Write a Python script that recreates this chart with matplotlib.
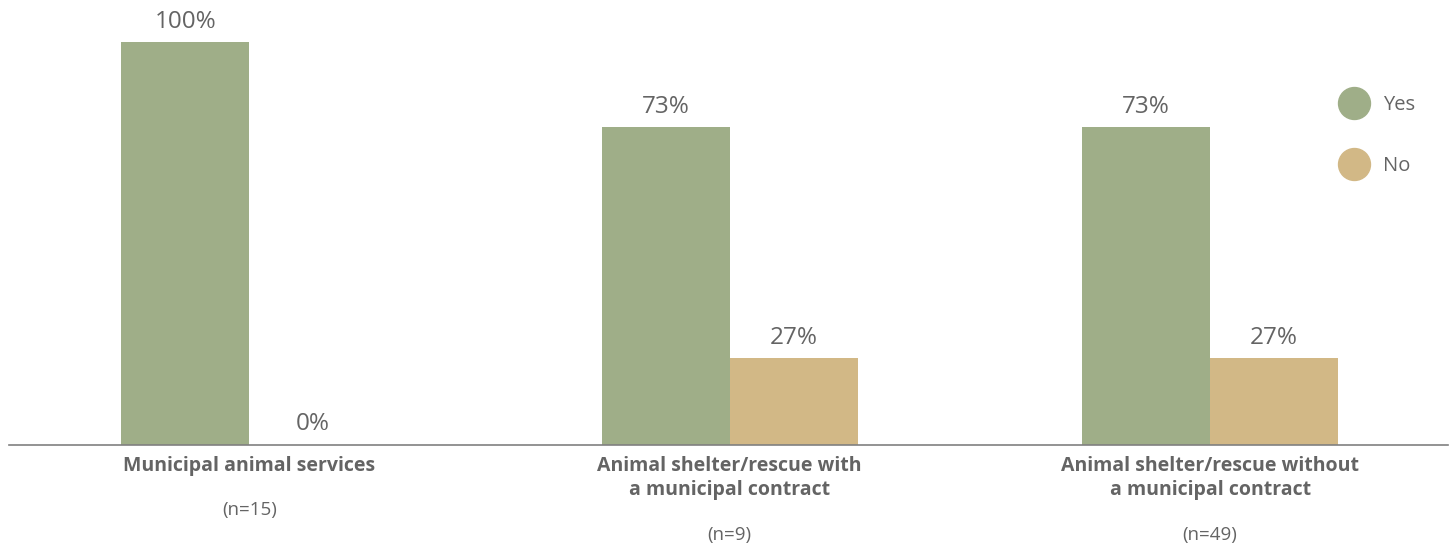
import matplotlib.pyplot as plt
from matplotlib.lines import Line2D
import numpy as np

# data
categories = ['Municipal animal services',
              'Animal shelter/rescue with\na municipal contract',
              'Animal shelter/rescue without\na municipal contract']
sample_sizes = ['(n=15)', '(n=9)', '(n=49)']
yes_heights = [100, 78.9, 78.9]
no_heights = [0, 21.5, 21.5]
yes_labels = ['100%', '73%', '73%']
no_labels = ['0%', '27%', '27%']

green = '#9fae88'
tan = '#d2b886'
grey = '#646464'

plt.rcParams['font.family'] = ['Open Sans', 'DejaVu Sans']

fig = plt.figure(figsize=(14.54, 5.45), dpi=100)
ax = fig.add_axes([9 / 1454, 100.5 / 545, 1439 / 1454, 444.5 / 545])

x = np.arange(len(categories))
w = 0.2664

ax.bar(x - w / 2, yes_heights, w, color=green)
ax.bar(x + w / 2, no_heights, w, color=tan)

for xi, h, lab in zip(x, yes_heights, yes_labels):
    ax.annotate(lab, (xi - w / 2, h), xytext=(0, 6), textcoords='offset points',
                ha='center', va='bottom', fontsize=17.5, color=grey)
for xi, h, lab in zip(x, no_heights, no_labels):
    ax.annotate(lab, (xi + w / 2, h), xytext=(0, 6), textcoords='offset points',
                ha='center', va='bottom', fontsize=17.5, color=grey)

for xi, cat, n in zip(x, categories, sample_sizes):
    ax.annotate(cat, (xi, 0), xycoords=('data', 'axes fraction'), xytext=(0, -8),
                textcoords='offset points', ha='center', va='top', fontsize=14,
                fontweight='bold', color=grey, linespacing=1.3)
    nlines = cat.count('\n')
    ax.annotate(n, (xi, 0), xycoords=('data', 'axes fraction'),
                xytext=(0, -41 - nlines * 18), textcoords='offset points',
                ha='center', va='top', fontsize=13.5, color=grey)

ax.set_xlim(-0.5, 2.495)
ax.set_ylim(0, 110.43)
for s in ['top', 'right', 'left']:
    ax.spines[s].set_visible(False)
ax.spines['bottom'].set_color('#808080')
ax.spines['bottom'].set_linewidth(1.2)
ax.set_xticks([])
ax.set_yticks([])

handles = [Line2D([], [], marker='o', linestyle='None', markersize=23, color=green),
           Line2D([], [], marker='o', linestyle='None', markersize=23, color=tan)]
ax.legend(handles, ['Yes', 'No'], loc='upper left', bbox_to_anchor=(1330 / 1454, 1 - 85 / 545),
          bbox_transform=fig.transFigure, frameon=False, fontsize=14.5, labelcolor=grey,
          labelspacing=2.05, handletextpad=0.75, borderpad=0, handlelength=1.4)

fig.savefig('out.png', dpi=100)
